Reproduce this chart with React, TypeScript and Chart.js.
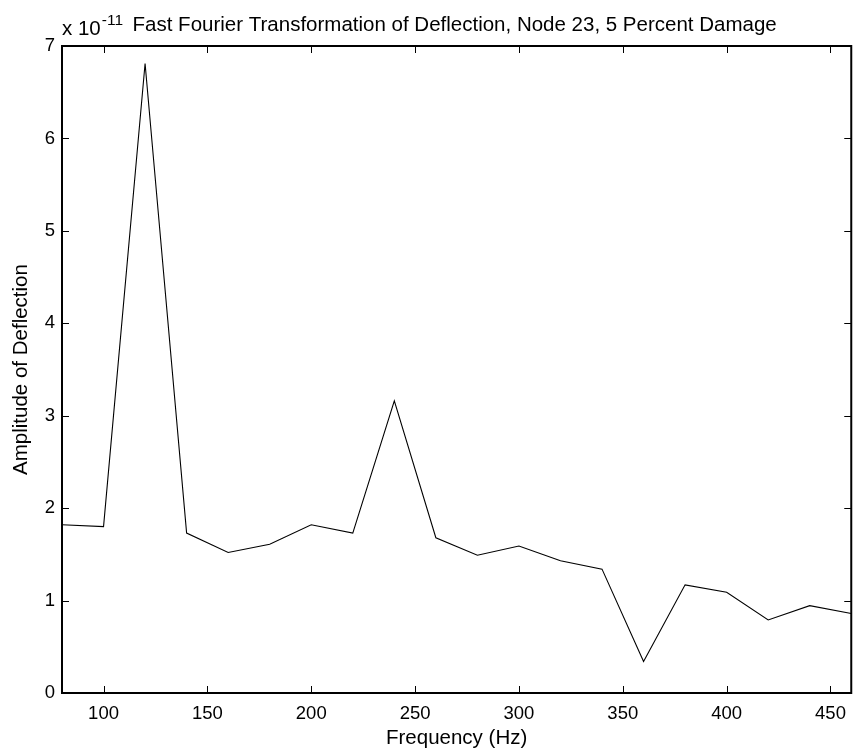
import { useEffect, useRef } from "react";
import { Chart, registerables } from "chart.js";

Chart.register(...registerables);

// Frequency bins (Hz) of the FFT and the deflection amplitude at each bin (in units of 10^-11)
const frequencies = [80, 100, 120, 140, 160, 180, 200, 220, 240, 260, 280, 300, 320, 340, 360, 380, 400, 420, 440, 460];
const amplitudes = [1.82, 1.8, 6.81, 1.73, 1.52, 1.61, 1.82, 1.73, 3.16, 1.68, 1.49, 1.59, 1.43, 1.34, 0.34, 1.17, 1.09, 0.79, 0.945, 0.86];

const xTickValues = [100, 150, 200, 250, 300, 350, 400, 450];
const yTickValues = [0, 1, 2, 3, 4, 5, 6, 7];
const exponent = "-11";

const titleText = "Fast Fourier Transformation of Deflection, Node 23, 5 Percent Damage";
const xTitle = "Frequency (Hz)";
const yTitle = "Amplitude of Deflection";

const FONT = "'Liberation Sans', Arial, sans-serif";
const TICK_FONT = 18.5;
const LABEL_FONT = 20.5;
const TICK_LEN = 7;

// Draws the boxed axes with inward ticks on all four sides, plus the title and exponent label
const framePlugin = {
  id: "matlabFrame",
  afterDraw(chart: any) {
    const { ctx, chartArea: a, scales } = chart;
    const x = scales.x;
    const y = scales.y;
    ctx.save();
    ctx.strokeStyle = "#000";
    ctx.lineWidth = 1;
    ctx.beginPath();
    xTickValues.forEach((v) => {
      const px = Math.round(x.getPixelForValue(v)) + 0.5;
      ctx.moveTo(px, a.bottom);
      ctx.lineTo(px, a.bottom - TICK_LEN);
      ctx.moveTo(px, a.top);
      ctx.lineTo(px, a.top + TICK_LEN);
    });
    yTickValues.forEach((v) => {
      const py = Math.round(y.getPixelForValue(v)) + 0.5;
      ctx.moveTo(a.left, py);
      ctx.lineTo(a.left + TICK_LEN, py);
      ctx.moveTo(a.right, py);
      ctx.lineTo(a.right - TICK_LEN, py);
    });
    ctx.stroke();

    ctx.lineWidth = 2;
    ctx.strokeRect(a.left, a.top, a.right - a.left, a.bottom - a.top);

    // exponent label above the y axis
    ctx.fillStyle = "#000";
    ctx.textBaseline = "alphabetic";
    ctx.textAlign = "left";
    ctx.font = `${LABEL_FONT}px ${FONT}`;
    const base = "x 10";
    ctx.fillText(base, a.left, a.top - 11);
    const bw = ctx.measureText(base).width;
    ctx.font = `15.5px ${FONT}`;
    ctx.fillText(exponent, a.left + bw + 1, a.top - 21);

    // title centred over the plot area
    ctx.font = `${LABEL_FONT}px ${FONT}`;
    ctx.textAlign = "center";
    ctx.fillText(titleText, (a.left + a.right) / 2 - 2, a.top - 15);
    ctx.restore();
  },
};

export default function App() {
  const canvasRef = useRef<HTMLCanvasElement | null>(null);

  useEffect(() => {
    document.body.style.margin = "0";
    const canvas = canvasRef.current;
    if (!canvas) return;
    const chart = new Chart(canvas, {
      type: "line",
      data: {
        datasets: [
          {
            data: frequencies.map((f, i) => ({ x: f, y: amplitudes[i] })),
            borderColor: "#000",
            borderWidth: 1.1,
            pointRadius: 0,
            tension: 0,
            fill: false,
          },
        ],
      },
      options: {
        animation: false,
        responsive: false,
        devicePixelRatio: 1,
        layout: { padding: { top: 46, right: 3, left: 0, bottom: 0 } },
        plugins: {
          legend: { display: false },
          tooltip: { enabled: false },
          title: { display: false },
        },
        scales: {
          x: {
            type: "linear",
            min: 80,
            max: 460,
            grid: { display: false, drawTicks: false },
            border: { display: false },
            afterBuildTicks: (scale: any) => {
              scale.ticks = xTickValues.map((v) => ({ value: v }));
            },
            afterFit: (scale: any) => {
              scale.height = 60;
            },
            ticks: {
              padding: 10,
              color: "#000",
              font: { family: FONT, size: TICK_FONT },
              maxRotation: 0,
              autoSkip: false,
            },
            title: {
              display: true,
              text: xTitle,
              color: "#000",
              font: { family: FONT, size: LABEL_FONT },
              padding: { top: 0, bottom: 2 },
            },
          },
          y: {
            type: "linear",
            min: 0,
            max: 7,
            grid: { display: false, drawTicks: false },
            border: { display: false },
            afterBuildTicks: (scale: any) => {
              scale.ticks = yTickValues.map((v) => ({ value: v }));
            },
            afterFit: (scale: any) => {
              scale.width = 62;
            },
            ticks: {
              padding: 7,
              color: "#000",
              font: { family: FONT, size: TICK_FONT },
              autoSkip: false,
            },
            title: {
              display: true,
              text: yTitle,
              color: "#000",
              font: { family: FONT, size: LABEL_FONT },
              padding: { top: 9, bottom: 0 },
            },
          },
        },
      },
      plugins: [framePlugin],
    });
    return () => chart.destroy();
  }, []);

  return (
    <div style={{ width: 856, height: 753, background: "#fff" }}>
      <canvas ref={canvasRef} width={856} height={753} style={{ display: "block" }} />
    </div>
  );
}
